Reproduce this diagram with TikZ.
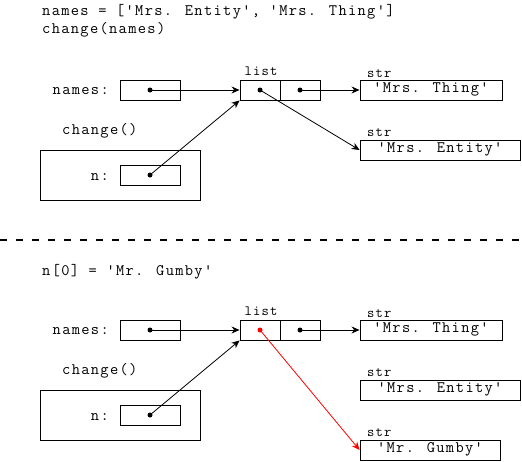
\documentclass[tikz,border=0pt]{standalone}
\usepackage{fontspec}
\newfontfamily\codefont{Latin Modern Mono}[LetterSpace=8.3]
\usetikzlibrary{arrows.meta}
\begin{document}
\begin{tikzpicture}[x=1pt,y=-1pt,
  code/.style={font=\codefont\fontsize{16}{18}\selectfont, inner sep=0},
  tag/.style={font=\codefont\fontsize{14.2}{16}\selectfont, inner sep=0},
  cell/.style={draw, line width=0.9pt, minimum height=20pt, inner sep=0,
    font=\codefont\fontsize{16}{18}\selectfont, text height=8pt, text depth=3pt},
  frame/.style={draw, line width=0.9pt, inner sep=0, minimum height=50pt, minimum width=160pt},
  dot/.style={circle, fill, inner sep=0, minimum size=5pt},
  ptr/.style={-{Stealth[length=8pt,width=7pt]}, line width=0.8pt},
  sep/.style={dash pattern=on 7pt off 9pt, line width=1.3pt},
]
\useasboundingbox (0,0) rectangle (522,461);
% ---------- top ----------
\node[code, anchor=base west] (t1) at (42,15) {names = ['Mrs. Entity', 'Mrs. Thing']};
\node[code, anchor=base west] (t2) at (42,33) {change(names)};
\node[code, anchor=base east] (lnamesA) at (109,94) {names:};
\node[cell, minimum width=60pt] (bnamesA) at (150,90) {};
\node[dot] (dnamesA) at (150,90) {};
\node[cell, minimum width=40pt] (l0A) at (260,90) {};
\node[cell, minimum width=40pt] (l1A) at (300,90) {};
\node[tag, anchor=base] (ltagA) at (261,75) {list};
\node[dot] (d0A) at (260,90) {};
\node[dot] (d1A) at (300,90) {};
\node[cell, minimum width=142pt] (thingA) at (431,90) {'Mrs. Thing'};
\node[tag, anchor=base west] (s1A) at (367,77) {str};
\node[cell, minimum width=160pt] (entA) at (440,150) {'Mrs. Entity'};
\node[tag, anchor=base west] (s2A) at (367,136) {str};
\node[code, anchor=base west] (chgA) at (62,134) {change()};
\node[frame] (frA) at (120,175) {};
\node[code, anchor=base east] (lnA) at (109,180) {n:};
\node[cell, minimum width=60pt] (bnA) at (150,175) {};
\node[dot] (dnA) at (150,175) {};
\draw[ptr] (dnamesA.center) -- (l0A.west);
\draw[ptr] (d1A.center) -- (thingA.west);
\draw[ptr] (d0A.center) -- (entA.west);
\draw[ptr] (dnA.center) -- (l0A.south west);
% ---------- separator ----------
\coordinate (sl) at (0,240);
\coordinate (sr) at (522,240);
\draw[sep] (sl) -- (sr);
% ---------- bottom ----------
\node[code, anchor=base west] (t3) at (42,275) {n[0] = 'Mr. Gumby'};
\node[code, anchor=base east] (lnamesB) at (109,334) {names:};
\node[cell, minimum width=60pt] (bnamesB) at (150,330) {};
\node[dot] (dnamesB) at (150,330) {};
\node[cell, minimum width=40pt] (l0B) at (260,330) {};
\node[cell, minimum width=40pt] (l1B) at (300,330) {};
\node[tag, anchor=base] (ltagB) at (261,315) {list};
\node[dot, red] (d0B) at (260,330) {};
\node[dot] (d1B) at (300,330) {};
\node[cell, minimum width=142pt] (thingB) at (431,330) {'Mrs. Thing'};
\node[tag, anchor=base west] (s1B) at (367,317) {str};
\node[cell, minimum width=160pt] (entB) at (440,390) {'Mrs. Entity'};
\node[tag, anchor=base west] (s2B) at (367,376) {str};
\node[cell, minimum width=140pt] (gumB) at (430,450) {'Mr. Gumby'};
\node[tag, anchor=base west] (s3B) at (367,436) {str};
\node[code, anchor=base west] (chgB) at (62,374) {change()};
\node[frame] (frB) at (120,415) {};
\node[code, anchor=base east] (lnB) at (109,420) {n:};
\node[cell, minimum width=60pt] (bnB) at (150,415) {};
\node[dot] (dnB) at (150,415) {};
\draw[ptr] (dnamesB.center) -- (l0B.west);
\draw[ptr] (d1B.center) -- (thingB.west);
\draw[ptr, red] (d0B.center) -- (gumB.west);
\draw[ptr] (dnB.center) -- (l0B.south west);
\end{tikzpicture}
\end{document}
